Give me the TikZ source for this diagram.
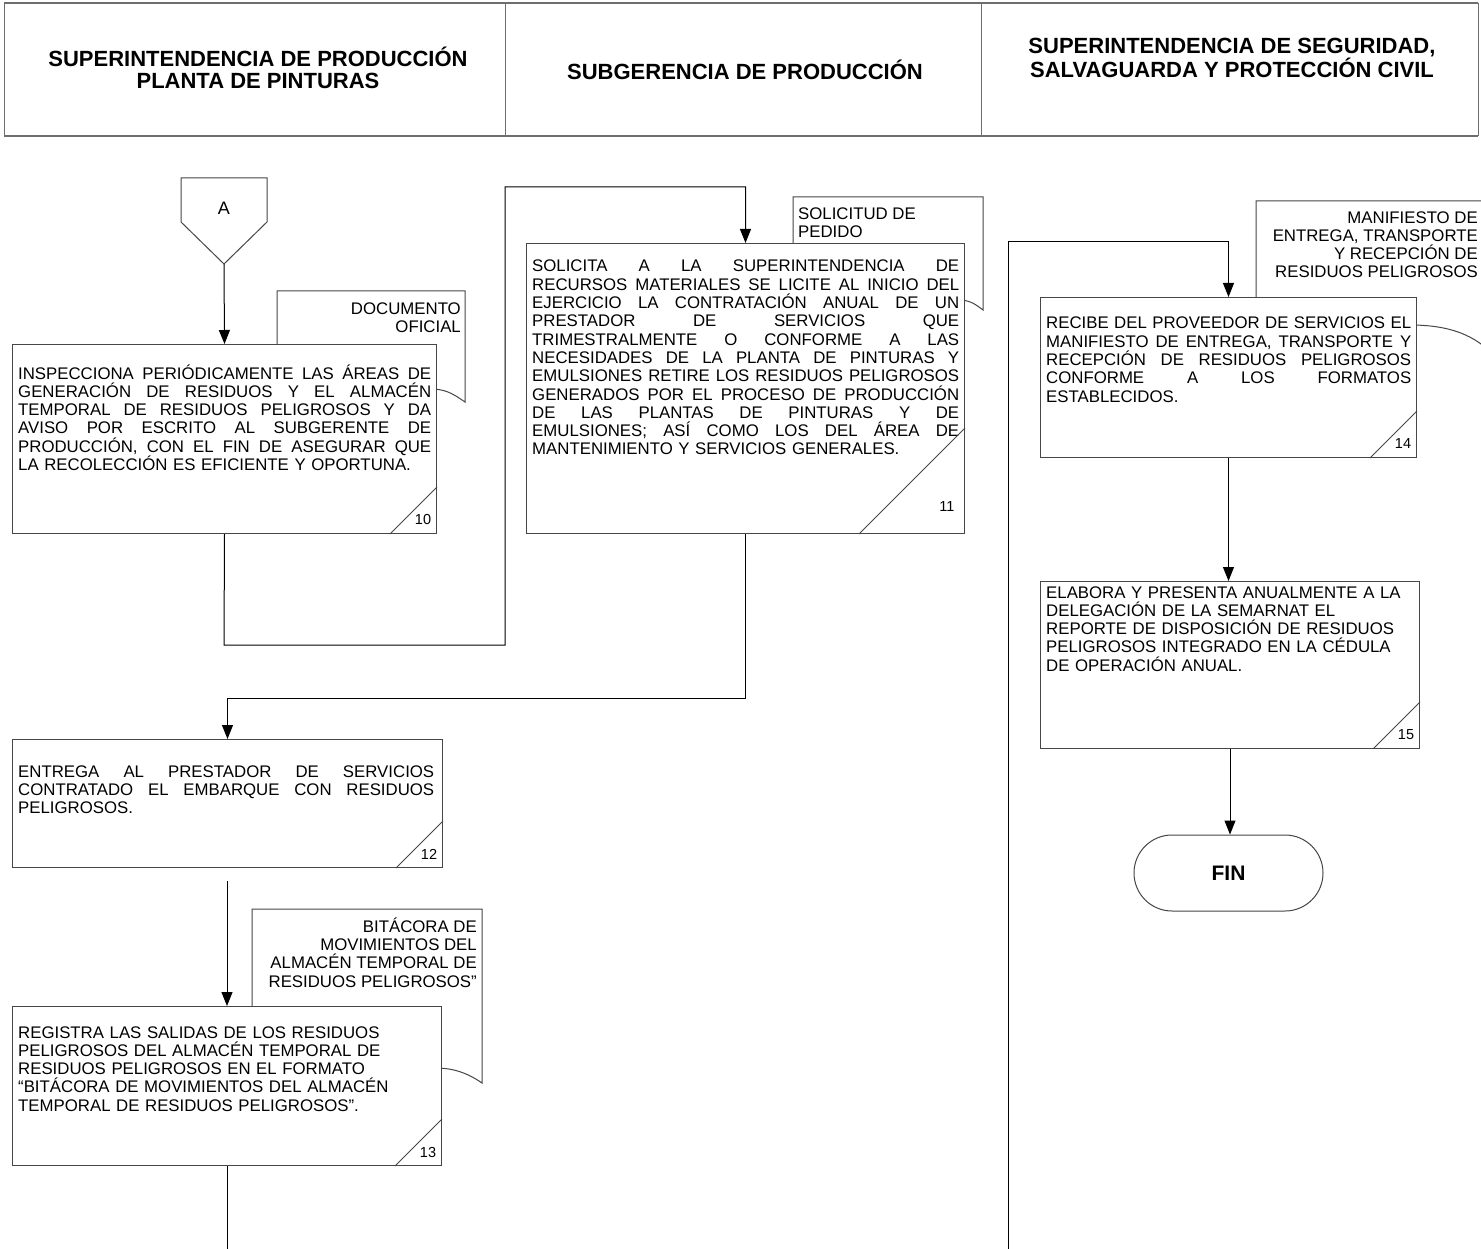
\documentclass[tikz,border=0pt]{standalone}
\usepackage{fontspec}
\setmainfont{Liberation Sans}
\usetikzlibrary{arrows.meta,calc}
\definecolor{boxgray}{RGB}{70,70,70}
\definecolor{hdrgray}{RGB}{110,110,110}
\tikzset{
 stepbox/.style={draw=boxgray, fill=white, line width=1pt, inner sep=0pt, anchor=north west},
 body/.style={font=\fontsize{16.8}{18.3}\selectfont, inner sep=0pt, anchor=base west, align=left},
 doctext/.style={font=\fontsize{16.8}{18.3}\selectfont, inner sep=0pt},
 docshape/.style={draw=boxgray, fill=white, line width=1pt},
 num/.style={font=\fontsize{14.5}{14.5}\selectfont, inner sep=0pt},
 conn/.style={draw=black, line width=1pt},
 arr/.style={conn, -{Triangle[length=14pt,width=11pt]}},
 hdrtext/.style={font=\bfseries\fontsize{22}{22}\selectfont, align=center, inner sep=0pt},
}
\newlength\jw
\newcommand\jl[1]{\leavevmode\hbox to \jw{\frenchspacing\spaceskip=0.25em plus 1fil\relax #1}}
% #1 box, #2 number, #3 leg of the corner triangle, #4 number x offset, #5 number y offset
\newcommand\numcorner[5]{%
  \draw[draw=boxgray, line width=1pt] ($(#1.south east)+(-#3,0)$) -- ($(#1.south east)+(0,-#3)$);
  \node[num] (#1n) at ($(#1.south east)+(-#4,-#5)$) {#2};}
\begin{document}
\begin{tikzpicture}[x=1pt,y=-1pt]
\useasboundingbox (0,0) rectangle (1481,1249);
\clip (0,0) rectangle (1481,1249);
\fill[white] (0,0) rectangle (1481,1249);

% header
\draw[hdrgray, line width=1pt] (4,3) -- (4,136) (505,3) -- (505,136) (981,3) -- (981,136) (1478,3) -- (1478,136);
\draw[hdrgray, line width=2pt] (4,3) -- (1478,3) (4,136) -- (1478,136);
\node[hdrtext] (h1) at (258,68) {SUPERINTENDENCIA DE PRODUCCIÓN\\PLANTA DE PINTURAS};
\node[hdrtext] (h2) at (745,70) {SUBGERENCIA DE PRODUCCIÓN};
\node[hdrtext] (h3) at (1232,58) {SUPERINTENDENCIA DE SEGURIDAD,\\SALVAGUARDA Y PROTECCIÓN CIVIL};

% off-page connector A
\draw[draw=boxgray, fill=white, line width=1pt] (181,178) -- (267,178) -- (267,222) -- (224,264) -- (181,222) -- cycle;
\node[font=\fontsize{18}{18}\selectfont, inner sep=0pt] (A) at (224,208) {A};
\coordinate (Atip) at (224,264);

% documents (behind boxes)
\draw[docshape] (277,344) -- (277,291) -- (465,291) -- (465,402) .. controls (452,393) and (445,389) .. (430,389) -- (277,389);
\node[doctext, anchor=base east, align=right] (d10) at (461,333) {DOCUMENTO\\OFICIAL};

\draw[docshape] (793,243) -- (793,197) -- (983,197) -- (983,310) .. controls (975,304) and (970,300) .. (958,300) -- (793,300);
\node[doctext, anchor=base west, align=left] (d11) at (798,238) {SOLICITUD DE\\PEDIDO};

\draw[docshape] (252,1006) -- (252,909) -- (482,909) -- (482,1083) .. controls (466,1072) and (452,1068) .. (435,1068) -- (252,1068);
\node[doctext, anchor=base east, align=right] (d13) at (477,987) {BITÁCORA DE\\MOVIMIENTOS DEL\\ALMACÉN TEMPORAL DE\\RESIDUOS PELIGROSOS”};

\draw[docshape] (1256,297) -- (1256,201) -- (1500,201) -- (1500,362) .. controls (1480,338) and (1455,325) .. (1410,325) -- (1256,325);
\node[doctext, anchor=base east, align=right] (d14) at (1478,278) {MANIFIESTO DE\\ENTREGA, TRANSPORTE\\Y RECEPCIÓN DE\\RESIDUOS PELIGROSOS};

% step boxes
\node[stepbox, minimum width=424pt, minimum height=189pt] (b10) at (12,344) {};
\node[body, text width=413pt] (t10) at (18,379) {\setlength\jw{413pt}%
\jl{INSPECCIONA PERIÓDICAMENTE LAS ÁREAS DE}\\
\jl{GENERACIÓN DE RESIDUOS Y EL ALMACÉN}\\
\jl{TEMPORAL DE RESIDUOS PELIGROSOS Y DA}\\
\jl{AVISO POR ESCRITO AL SUBGERENTE DE}\\
\jl{PRODUCCIÓN, CON EL FIN DE ASEGURAR QUE}\\
LA RECOLECCIÓN ES EFICIENTE Y OPORTUNA.};
\numcorner{b10}{10}{47}{14}{14}

\node[stepbox, minimum width=438pt, minimum height=290pt] (b11) at (526,243) {};
\node[body, text width=427pt] (t11) at (532,272) {\setlength\jw{427pt}%
\jl{SOLICITA A LA SUPERINTENDENCIA DE}\\
\jl{RECURSOS MATERIALES SE LICITE AL INICIO DEL}\\
\jl{EJERCICIO LA CONTRATACIÓN ANUAL DE UN}\\
\jl{PRESTADOR DE SERVICIOS QUE}\\
\jl{TRIMESTRALMENTE O CONFORME A LAS}\\
\jl{NECESIDADES DE LA PLANTA DE PINTURAS Y}\\
\jl{EMULSIONES RETIRE LOS RESIDUOS PELIGROSOS}\\
\jl{GENERADOS POR EL PROCESO DE PRODUCCIÓN}\\
\jl{DE LAS PLANTAS DE PINTURAS Y DE}\\
\jl{EMULSIONES; ASÍ COMO LOS DEL ÁREA DE}\\
MANTENIMIENTO Y SERVICIOS GENERALES.};
\numcorner{b11}{11}{106}{18}{27}

\node[stepbox, minimum width=430pt, minimum height=128pt] (b12) at (12,739) {};
\node[body, text width=416pt] (t12) at (18,777) {\setlength\jw{416pt}%
\jl{ENTREGA AL PRESTADOR DE SERVICIOS}\\
\jl{CONTRATADO EL EMBARQUE CON RESIDUOS}\\
PELIGROSOS.};
\numcorner{b12}{12}{47}{14}{14}

\node[stepbox, minimum width=429pt, minimum height=159pt] (b13) at (12,1006) {};
\node[body, text width=416pt] (t13) at (18,1038) {REGISTRA LAS SALIDAS DE LOS RESIDUOS\\
PELIGROSOS DEL ALMACÉN TEMPORAL DE\\
RESIDUOS PELIGROSOS EN EL FORMATO\\
“BITÁCORA DE MOVIMIENTOS DEL ALMACÉN\\
TEMPORAL DE RESIDUOS PELIGROSOS”.};
\numcorner{b13}{13}{47}{14}{14}

\node[stepbox, minimum width=376pt, minimum height=160pt] (b14) at (1040,297) {};
\node[body, text width=365pt] (t14) at (1046,329) {\setlength\jw{365pt}%
\jl{RECIBE DEL PROVEEDOR DE SERVICIOS EL}\\
\jl{MANIFIESTO DE ENTREGA, TRANSPORTE Y}\\
\jl{RECEPCIÓN DE RESIDUOS PELIGROSOS}\\
\jl{CONFORME A LOS FORMATOS}\\
ESTABLECIDOS.};
\numcorner{b14}{14}{47}{14}{14}

\node[stepbox, minimum width=379pt, minimum height=167pt] (b15) at (1040,581) {};
\node[body, text width=370pt] (t15) at (1046,598) {ELABORA Y PRESENTA ANUALMENTE A LA\\
DELEGACIÓN DE LA SEMARNAT EL\\
REPORTE DE DISPOSICIÓN DE RESIDUOS\\
PELIGROSOS INTEGRADO EN LA CÉDULA\\
DE OPERACIÓN ANUAL.};
\numcorner{b15}{15}{47}{14}{14}

\node[draw=boxgray, fill=white, line width=1pt, rounded corners=38pt, minimum width=189pt, minimum height=76pt, inner sep=0pt, font=\bfseries\fontsize{21}{21}\selectfont] (fin) at (1228.5,873) {FIN};

% connectors
\draw[arr] (Atip) -- (b10.north);
\draw[arr] (b10.south) -- (224,645) -- (505,645) -- (505,187) -| (b11.north);
\draw[arr] (b11.south) -- ($(b11.south)+(0,164)$) -| (b12.north);
\coordinate (g12) at ($(b13.north)+(0,-125)$);
\draw[arr] (g12) -- (b13.north);
\coordinate (e13) at ($(b13.south)+(0,84)$);
\draw[conn] (b13.south) -- (e13);
\coordinate (e14) at (1008,1249);
\draw[arr] (e14) -- (1008,242) -| (b14.north);
\draw[arr] (b14.south) -- (b14.south |- b15.north);
\draw[arr] (b15.south) -- (b15.south |- fin.north);
\end{tikzpicture}
\end{document}
